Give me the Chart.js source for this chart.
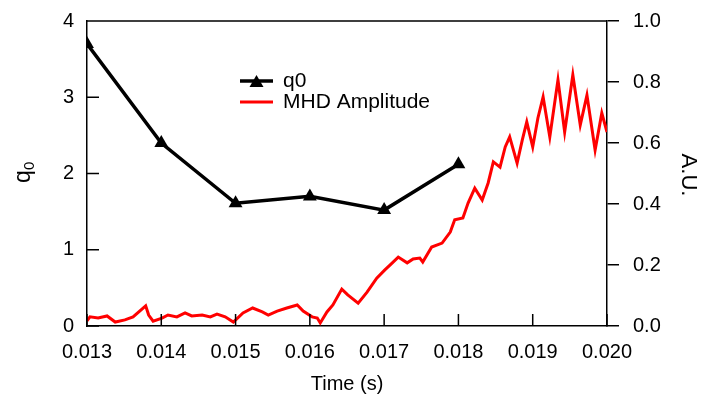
<!DOCTYPE html>
<html>
<head>
<meta charset="utf-8">
<script src="https://cdn.jsdelivr.net/npm/chart.js@4/dist/chart.umd.min.js"></script>
<style>
	html, body { margin: 0; padding: 0; background: #fff; }
	canvas { display: block; }
</style>
</head>
<body>
<canvas id="canvas" width="702" height="403"></canvas>
<script>
// q0 measurements (left axis)
const q0Time = [0.013, 0.014, 0.015, 0.016, 0.017, 0.018];
const q0Values = [3.70, 2.40, 1.61, 1.70, 1.52, 2.12];

// MHD amplitude trace (right axis, A.U.)
const mhdTime = [
	0.01300, 0.01304, 0.01315, 0.01327, 0.01338, 0.01351, 0.01362, 0.01379, 0.01383, 0.01389,
	0.01401, 0.01409, 0.01421, 0.01432, 0.01441, 0.01455, 0.01466, 0.01475, 0.01486, 0.01497,
	0.01510, 0.01523, 0.01536, 0.01544, 0.01556, 0.01569, 0.01583, 0.01591, 0.01603, 0.01610,
	0.01614, 0.01623, 0.01631, 0.01643, 0.01651, 0.01665, 0.01677, 0.01690, 0.01701, 0.01711,
	0.01719, 0.01731, 0.01739, 0.01748, 0.01752, 0.01764, 0.01778, 0.01789, 0.01795, 0.01806,
	0.01813, 0.01822, 0.01832, 0.01840, 0.01847, 0.01856, 0.01863, 0.01869, 0.01879, 0.01886,
	0.01892, 0.01900, 0.01907, 0.01914, 0.01923, 0.01934, 0.01943, 0.01954, 0.01964, 0.01973,
	0.01984, 0.01993, 0.02000
];
const mhdAmp = [
	0.017, 0.030, 0.026, 0.033, 0.013, 0.020, 0.030, 0.066, 0.036, 0.016,
	0.026, 0.036, 0.030, 0.043, 0.033, 0.036, 0.030, 0.039, 0.030, 0.013,
	0.043, 0.059, 0.046, 0.036, 0.049, 0.059, 0.069, 0.049, 0.030, 0.026,
	0.010, 0.046, 0.069, 0.121, 0.102, 0.075, 0.111, 0.157, 0.184, 0.207,
	0.226, 0.207, 0.220, 0.223, 0.210, 0.259, 0.272, 0.308, 0.348, 0.354,
	0.403, 0.452, 0.413, 0.469, 0.538, 0.521, 0.587, 0.620, 0.534, 0.610,
	0.669, 0.587, 0.682, 0.751, 0.620, 0.807, 0.636, 0.823, 0.659, 0.757,
	0.577, 0.698, 0.636
];

const leftTicks = [0, 1, 2, 3, 4];
const bottomTicks = [0.013, 0.014, 0.015, 0.016, 0.017, 0.018, 0.019, 0.020];

const FONT = '"Liberation Sans", Arial, Helvetica, sans-serif';

// ticks that point into the plot, top frame line, legend and axis titles
const decorations = {
	id: 'decorations',
	afterDraw(chart) {
		const { ctx, chartArea, scales } = chart;
		const { left, right, top, bottom } = chartArea;
		ctx.save();
		ctx.strokeStyle = '#000';
		ctx.lineWidth = 1.5;
		ctx.beginPath();
		ctx.moveTo(left, top);
		ctx.lineTo(right, top);
		leftTicks.forEach(v => {
			const y = scales.y.getPixelForValue(v);
			ctx.moveTo(left, y);
			ctx.lineTo(left + 12, y);
		});
		bottomTicks.forEach(v => {
			const x = scales.x.getPixelForValue(v);
			ctx.moveTo(x, bottom);
			ctx.lineTo(x, bottom - 12);
		});
		ctx.stroke();

		// legend
		ctx.lineWidth = 3.5;
		ctx.strokeStyle = '#000';
		ctx.beginPath();
		ctx.moveTo(240, 81);
		ctx.lineTo(273, 81);
		ctx.stroke();
		ctx.fillStyle = '#000';
		ctx.beginPath();
		ctx.moveTo(256.5, 75);
		ctx.lineTo(263.5, 87);
		ctx.lineTo(249.5, 87);
		ctx.closePath();
		ctx.fill();
		ctx.lineWidth = 3;
		ctx.strokeStyle = '#ff0000';
		ctx.beginPath();
		ctx.moveTo(240, 102);
		ctx.lineTo(273, 102);
		ctx.stroke();
		ctx.fillStyle = '#000';
		ctx.font = '21px ' + FONT;
		ctx.textAlign = 'left';
		ctx.textBaseline = 'middle';
		ctx.fillText('q0', 283, 81);
		ctx.fillText('MHD Amplitude', 283, 102);

		// x title
		ctx.textAlign = 'center';
		ctx.font = '20px ' + FONT;
		ctx.fillText('Time (s)', (left + right) / 2, 384);

		// left title q with subscript 0
		ctx.save();
		ctx.translate(24, 172);
		ctx.rotate(-Math.PI / 2);
		ctx.textAlign = 'left';
		ctx.font = '23px ' + FONT;
		const qw = ctx.measureText('q').width;
		ctx.fillText('q', -(qw + 9) / 2, 0);
		ctx.font = '15px ' + FONT;
		ctx.fillText('0', -(qw + 9) / 2 + qw, 6);
		ctx.restore();

		// right title
		ctx.save();
		ctx.translate(688, 175);
		ctx.rotate(Math.PI / 2);
		ctx.textAlign = 'center';
		ctx.font = '22px ' + FONT;
		ctx.fillText('A.U.', 0, 0);
		ctx.restore();
		ctx.restore();
	}
};

function fixVertical(width) {
	return s => { s.width = width; s.paddingTop = 0; s.paddingBottom = 0; };
}

const ctx = document.getElementById('canvas').getContext('2d');
new Chart(ctx, {
	type: 'line',
	data: {
		datasets: [
			{
				label: 'MHD Amplitude',
				data: mhdTime.map((t, i) => ({ x: t, y: mhdAmp[i] })),
				yAxisID: 'y2',
				borderColor: '#ff0000',
				borderWidth: 3,
				pointRadius: 0,
				tension: 0,
				order: 2
			},
			{
				label: 'q0',
				data: q0Time.map((t, i) => ({ x: t, y: q0Values[i] })),
				yAxisID: 'y',
				borderColor: '#000',
				backgroundColor: '#000',
				borderWidth: 3.5,
				pointStyle: 'triangle',
				pointRadius: 8,
				pointBorderWidth: 0,
				tension: 0,
				order: 1
			}
		]
	},
	options: {
		responsive: false,
		animation: false,
		layout: { padding: { top: 21, left: 0, right: 0, bottom: 0 } },
		plugins: { legend: { display: false }, tooltip: { enabled: false } },
		scales: {
			x: {
				type: 'linear',
				min: 0.013,
				max: 0.020,
				afterFit: s => { s.height = 77; s.paddingLeft = 0; s.paddingRight = 0; },
				afterBuildTicks: s => { s.ticks = bottomTicks.map(v => ({ value: v })); },
				grid: { display: false },
				border: { display: true, color: '#000', width: 1.5 },
				ticks: {
					color: '#000',
					font: { family: FONT, size: 20 },
					padding: 6,
					maxRotation: 0,
					callback: v => v.toFixed(3)
				}
			},
			y: {
				position: 'left',
				min: 0,
				max: 4,
				afterFit: fixVertical(87),
				afterBuildTicks: s => { s.ticks = leftTicks.map(v => ({ value: v })); },
				grid: { display: false },
				border: { display: true, color: '#000', width: 1.5 },
				ticks: {
					color: '#000',
					font: { family: FONT, size: 20 },
					padding: 5
				}
			},
			y2: {
				position: 'right',
				min: 0,
				max: 1,
				afterFit: fixVertical(95),
				grid: { drawOnChartArea: false, tickLength: 12, color: '#000', lineWidth: 1.5 },
				border: { display: true, color: '#000', width: 1.5 },
				ticks: {
					color: '#000',
					font: { family: FONT, size: 20 },
					padding: 14,
					stepSize: 0.2,
					callback: v => v.toFixed(1)
				}
			}
		}
	},
	plugins: [decorations]
});
</script>
</body>
</html>
